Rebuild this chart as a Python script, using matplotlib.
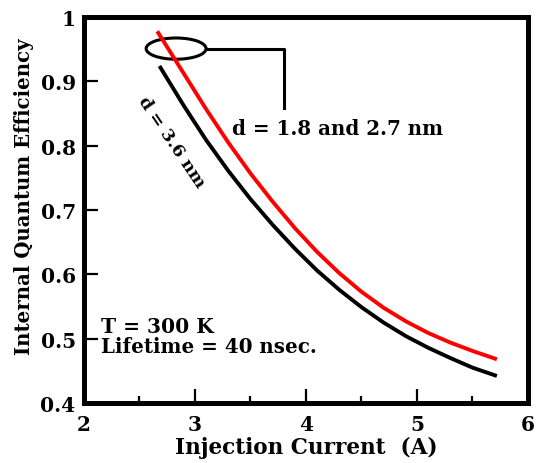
import matplotlib
matplotlib.use("Agg")
import matplotlib.pyplot as plt
from matplotlib.patches import Ellipse

# Data
red_x = [2.66, 2.9, 3.1, 3.3, 3.5, 3.7, 3.9, 4.1, 4.3, 4.5, 4.7, 4.9, 5.1, 5.3, 5.5, 5.72]
red_y = [0.978, 0.912, 0.857, 0.805, 0.757, 0.713, 0.672, 0.635, 0.602, 0.573, 0.548, 0.527, 0.509, 0.494, 0.481, 0.468]
black_x = [2.68, 2.9, 3.1, 3.3, 3.5, 3.7, 3.9, 4.1, 4.3, 4.5, 4.7, 4.9, 5.1, 5.3, 5.5, 5.72]
black_y = [0.924, 0.862, 0.809, 0.761, 0.717, 0.677, 0.640, 0.606, 0.576, 0.549, 0.525, 0.504, 0.486, 0.470, 0.455, 0.442]

x_ticks = [2, 3, 4, 5, 6]
x_ticklabels = ["2", "3", "4", "5", "6"]
y_ticks = [0.4, 0.5, 0.6, 0.7, 0.8, 0.9, 1.0]
y_ticklabels = ["0.4", "0.5", "0.6", "0.7", "0.8", "0.9", "1"]

plt.rcParams['font.family'] = ['DejaVu Serif']
plt.rcParams['font.weight'] = 'bold'

fig = plt.figure(figsize=(5.36, 4.64), dpi=100)
ax = fig.add_axes([0.1567, 0.1293, 0.985 - 0.1567, 0.961 - 0.1293])

ax.plot(red_x, red_y, color='#ff0000', lw=2.8, solid_capstyle='butt')
ax.plot(black_x, black_y, color='black', lw=2.8, solid_capstyle='butt')

ax.set_xlim(2, 6)
ax.set_ylim(0.4, 1.0)
ax.set_xticks(x_ticks)
ax.set_xticklabels(x_ticklabels)
ax.set_yticks(y_ticks)
ax.set_yticklabels(y_ticklabels)
ax.set_xticks([2.5, 3.5, 4.5, 5.5], minor=True)

for s in ax.spines.values():
    s.set_linewidth(3.6)

ax.tick_params(axis='both', which='major', direction='in', length=10, width=1.6,
               labelsize=14.5, pad=6)
ax.tick_params(axis='x', which='major', pad=8)
ax.tick_params(axis='x', which='minor', direction='in', length=5, width=1.6)
for lab in ax.get_xticklabels() + ax.get_yticklabels():
    lab.set_fontweight('bold')

ax.set_xlabel("Injection Current  (A)", fontsize=15.5, fontweight='bold', labelpad=1)
ax.set_ylabel("Internal Quantum Efficiency", fontsize=14.2, fontweight='bold')
ax.yaxis.set_label_coords(-0.113, 0.536)

# ellipse + connector annotation
ell = Ellipse((2.83, 0.951), 0.54, 0.033, fill=False, edgecolor='black', lw=2.2)
ax.add_patch(ell)
ax.plot([3.10, 3.80, 3.80], [0.950, 0.950, 0.858], color='black', lw=2.2)

ax.text(3.33, 0.827, "d = 1.8 and 2.7 nm", fontsize=14.3, fontweight='bold',
        ha='left', va='center')
ax.text(2.79, 0.806, "d = 3.6 nm", fontsize=12.5, fontweight='bold',
        ha='center', va='center', rotation=-56, rotation_mode='anchor')
ax.text(2.15, 0.519, "T = 300 K", fontsize=14.5, fontweight='bold', ha='left', va='center')
ax.text(2.15, 0.488, "Lifetime = 40 nsec.", fontsize=14.3, fontweight='bold', ha='left', va='center')

fig.savefig("out.png", dpi=100)
